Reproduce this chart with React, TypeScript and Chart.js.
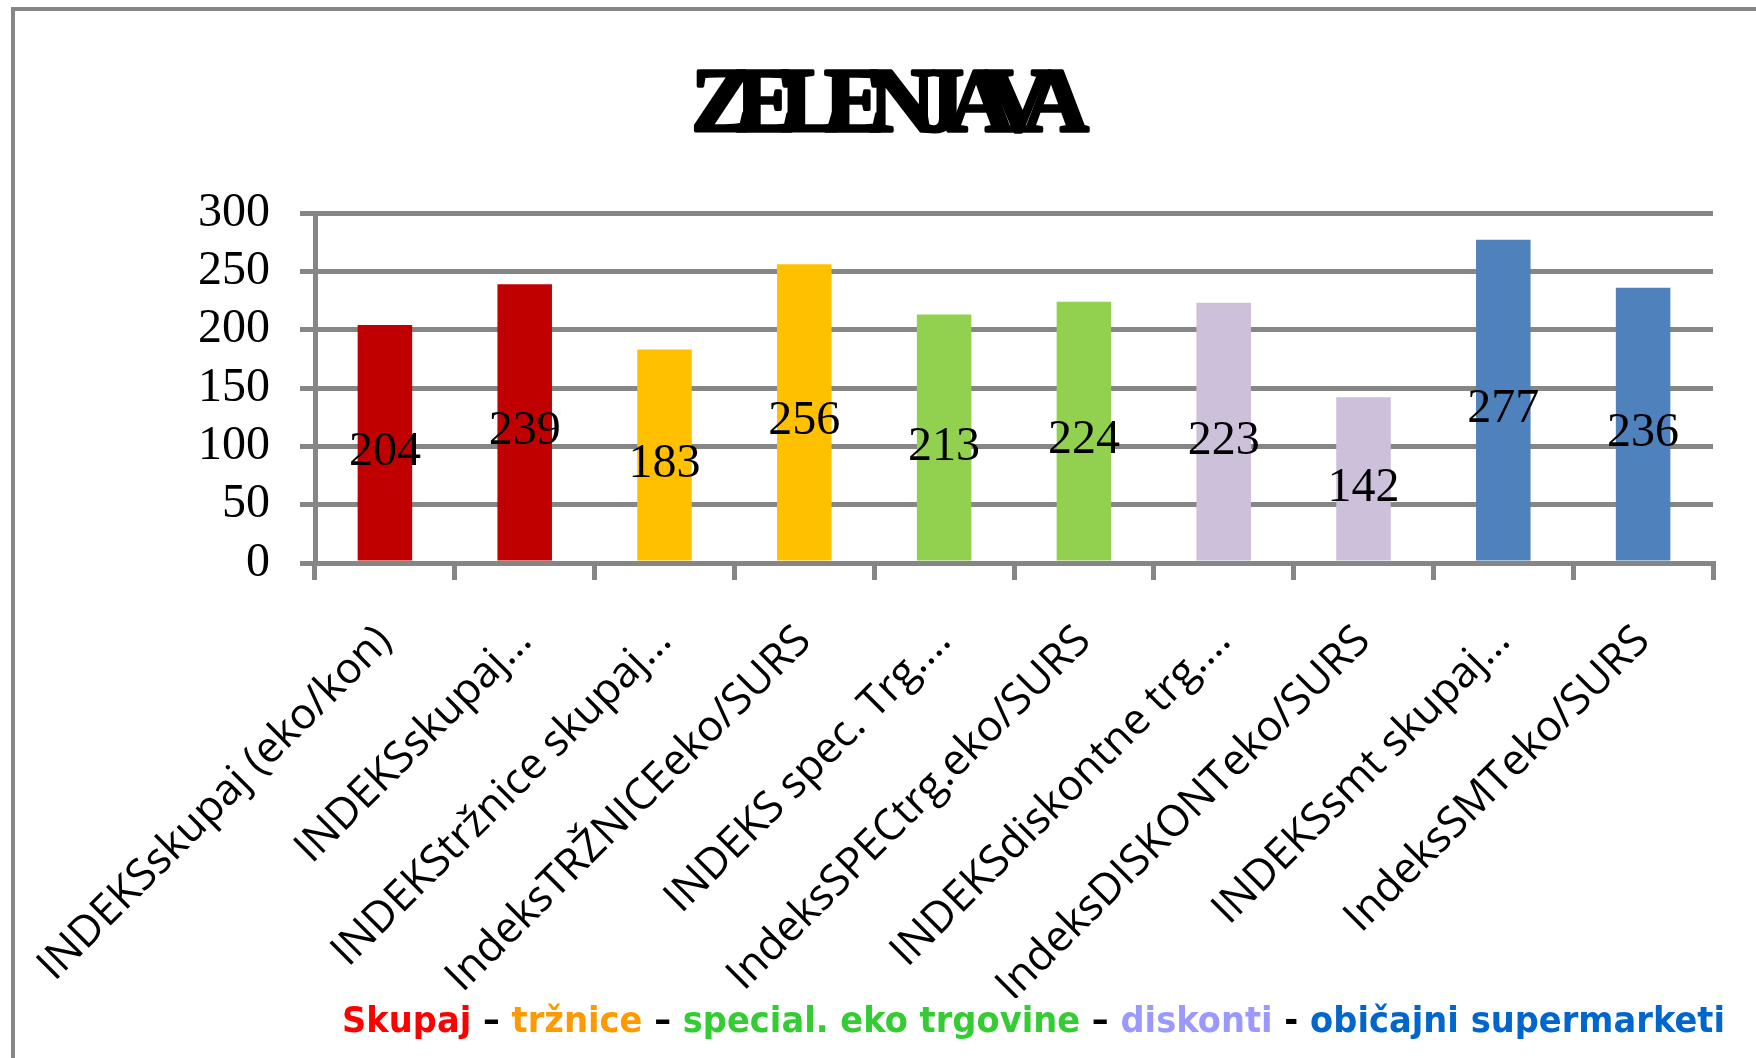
import React, { useEffect, useRef } from 'react';
import { Chart, registerables } from 'chart.js';

Chart.register(...registerables);

const titleText = 'ZELENJAVA';
const categories = [
  'INDEKSskupaj (eko/kon)',
  'INDEKSskupaj…',
  'INDEKStržnice skupaj…',
  'IndeksTRŽNICEeko/SURS',
  'INDEKS spec. Trg.…',
  'IndeksSPECtrg.eko/SURS',
  'INDEKSdiskontne trg.…',
  'IndeksDISKONTeko/SURS',
  'INDEKSsmt skupaj…',
  'IndeksSMTeko/SURS',
];
const values = [204, 239, 183, 256, 213, 224, 223, 142, 277, 236];
const barColors = [
  '#C00000', '#C00000',
  '#FFC000', '#FFC000',
  '#92D050', '#92D050',
  '#CCC0DA', '#CCC0DA',
  '#4F81BD', '#4F81BD',
];
const yMin = 0;
const yMax = 300;
const yStep = 50;
const legendTexts = ['Skupaj', ' – ', 'tržnice', ' – ', 'special. eko trgovine', ' – ', 'diskonti', ' - ', 'običajni supermarketi'];
const legendColors = ['#FF0000', '#000000', '#FF9900', '#000000', '#33CC33', '#000000', '#9999FF', '#000000', '#0066CC'];

const GRAY = '#868686';

const framePlugin = {
  id: 'frame',
  beforeDraw(chart: any) {
    const ctx = chart.ctx;
    ctx.save();
    ctx.fillStyle = '#ffffff';
    ctx.fillRect(0, 0, chart.width, chart.height);
    ctx.strokeStyle = GRAY;
    ctx.lineWidth = 4;
    ctx.strokeRect(13, 9, chart.width + 100, chart.height + 100);
    ctx.restore();
  },
};

const titlePlugin = {
  id: 'squeezedTitle',
  afterDraw(chart: any) {
    const ctx = chart.ctx;
    ctx.save();
    const spacing = -17;
    ctx.font = 'bold 92px "Liberation Serif", "DejaVu Serif", serif';
    (ctx as any).letterSpacing = spacing + 'px';
    ctx.fillStyle = '#000000';
    ctx.strokeStyle = '#000000';
    ctx.lineWidth = 3.5;
    ctx.lineJoin = 'round';
    ctx.textAlign = 'left';
    ctx.textBaseline = 'alphabetic';
    const w = ctx.measureText(titleText).width - spacing;
    const cx = chart.width / 2 + 12;
    ctx.fillText(titleText, cx - w / 2, 131);
    ctx.strokeText(titleText, cx - w / 2, 131);
    ctx.restore();
  },
};

const valueLabelPlugin = {
  id: 'valueLabels',
  afterDatasetsDraw(chart: any) {
    const ctx = chart.ctx;
    const meta = chart.getDatasetMeta(0);
    ctx.save();
    ctx.font = '48px "Liberation Serif"';
    ctx.fillStyle = '#000000';
    ctx.textAlign = 'center';
    ctx.textBaseline = 'alphabetic';
    meta.data.forEach((bar: any, i: number) => {
      const p = bar.getProps(['x', 'y', 'base'], true);
      ctx.fillText(String(values[i]), p.x, (p.y + p.base) / 2 + 22);
    });
    ctx.restore();
  },
};

const legendPlugin = {
  id: 'colorLegend',
  afterDraw(chart: any) {
    const ctx = chart.ctx;
    ctx.save();
    ctx.font = 'bold 36px "DejaVu Sans"';
    ctx.textAlign = 'left';
    ctx.textBaseline = 'alphabetic';
    let total = 0;
    legendTexts.forEach((t) => { total += ctx.measureText(t).width; });
    const targetLeft = 342;
    const targetWidth = 1383;
    const sx = targetWidth / total;
    ctx.translate(targetLeft, 1032);
    ctx.scale(sx, 1);
    let x = 0;
    legendTexts.forEach((t, i) => {
      ctx.fillStyle = legendColors[i];
      ctx.fillText(t, x, 0);
      x += ctx.measureText(t).width;
    });
    ctx.restore();
  },
};

export default function App() {
  const ref = useRef<HTMLCanvasElement>(null);
  useEffect(() => {
    if (!ref.current) return;
    const chart = new Chart(ref.current, {
      type: 'bar',
      data: {
        labels: categories,
        datasets: [
          {
            data: values,
            backgroundColor: barColors,
            borderWidth: 0,
            barPercentage: 0.39,
            categoryPercentage: 1,
          },
        ],
      },
      options: {
        animation: false,
        responsive: false,
        devicePixelRatio: 1,
        layout: { padding: { left: 20, right: 43, top: 213, bottom: 60 } },
        plugins: {
          legend: { display: false },
          title: { display: false },
          tooltip: { enabled: false },
        },
        scales: {
          x: {
            afterFit: (scale: any) => {
              scale.height = 435;
              scale.paddingLeft = 0;
              scale.paddingRight = 0;
            },
            grid: {
              display: true,
              drawOnChartArea: false,
              drawTicks: true,
              tickLength: 17,
              color: GRAY,
              lineWidth: 5,
              offset: true,
            },
            border: { display: true, color: GRAY, width: 5 },
            ticks: {
              autoSkip: false,
              minRotation: 45,
              maxRotation: 45,
              padding: 36,
              color: '#000000',
              font: { family: '"Open Sans"', size: 43 },
            },
          },
          y: {
            min: yMin,
            max: yMax,
            afterFit: (scale: any) => {
              scale.width = 295;
              scale.paddingTop = 0;
              scale.paddingBottom = 0;
            },
            grid: {
              color: GRAY,
              lineWidth: 5,
              tickLength: 15,
              drawTicks: true,
            },
            border: { display: true, color: GRAY, width: 5 },
            ticks: {
              autoSkip: false,
              stepSize: yStep,
              padding: 30,
              color: '#000000',
              font: { family: '"Liberation Serif"', size: 48 },
            },
          },
        },
      },
      plugins: [framePlugin, valueLabelPlugin, titlePlugin, legendPlugin],
    });
    return () => chart.destroy();
  }, []);
  return (
    <div style={{ position: 'fixed', left: 0, top: 0, width: 1756, height: 1058, background: '#fff' }}>
      <canvas ref={ref} width={1756} height={1058} style={{ display: 'block', width: 1756, height: 1058 }} />
    </div>
  );
}
